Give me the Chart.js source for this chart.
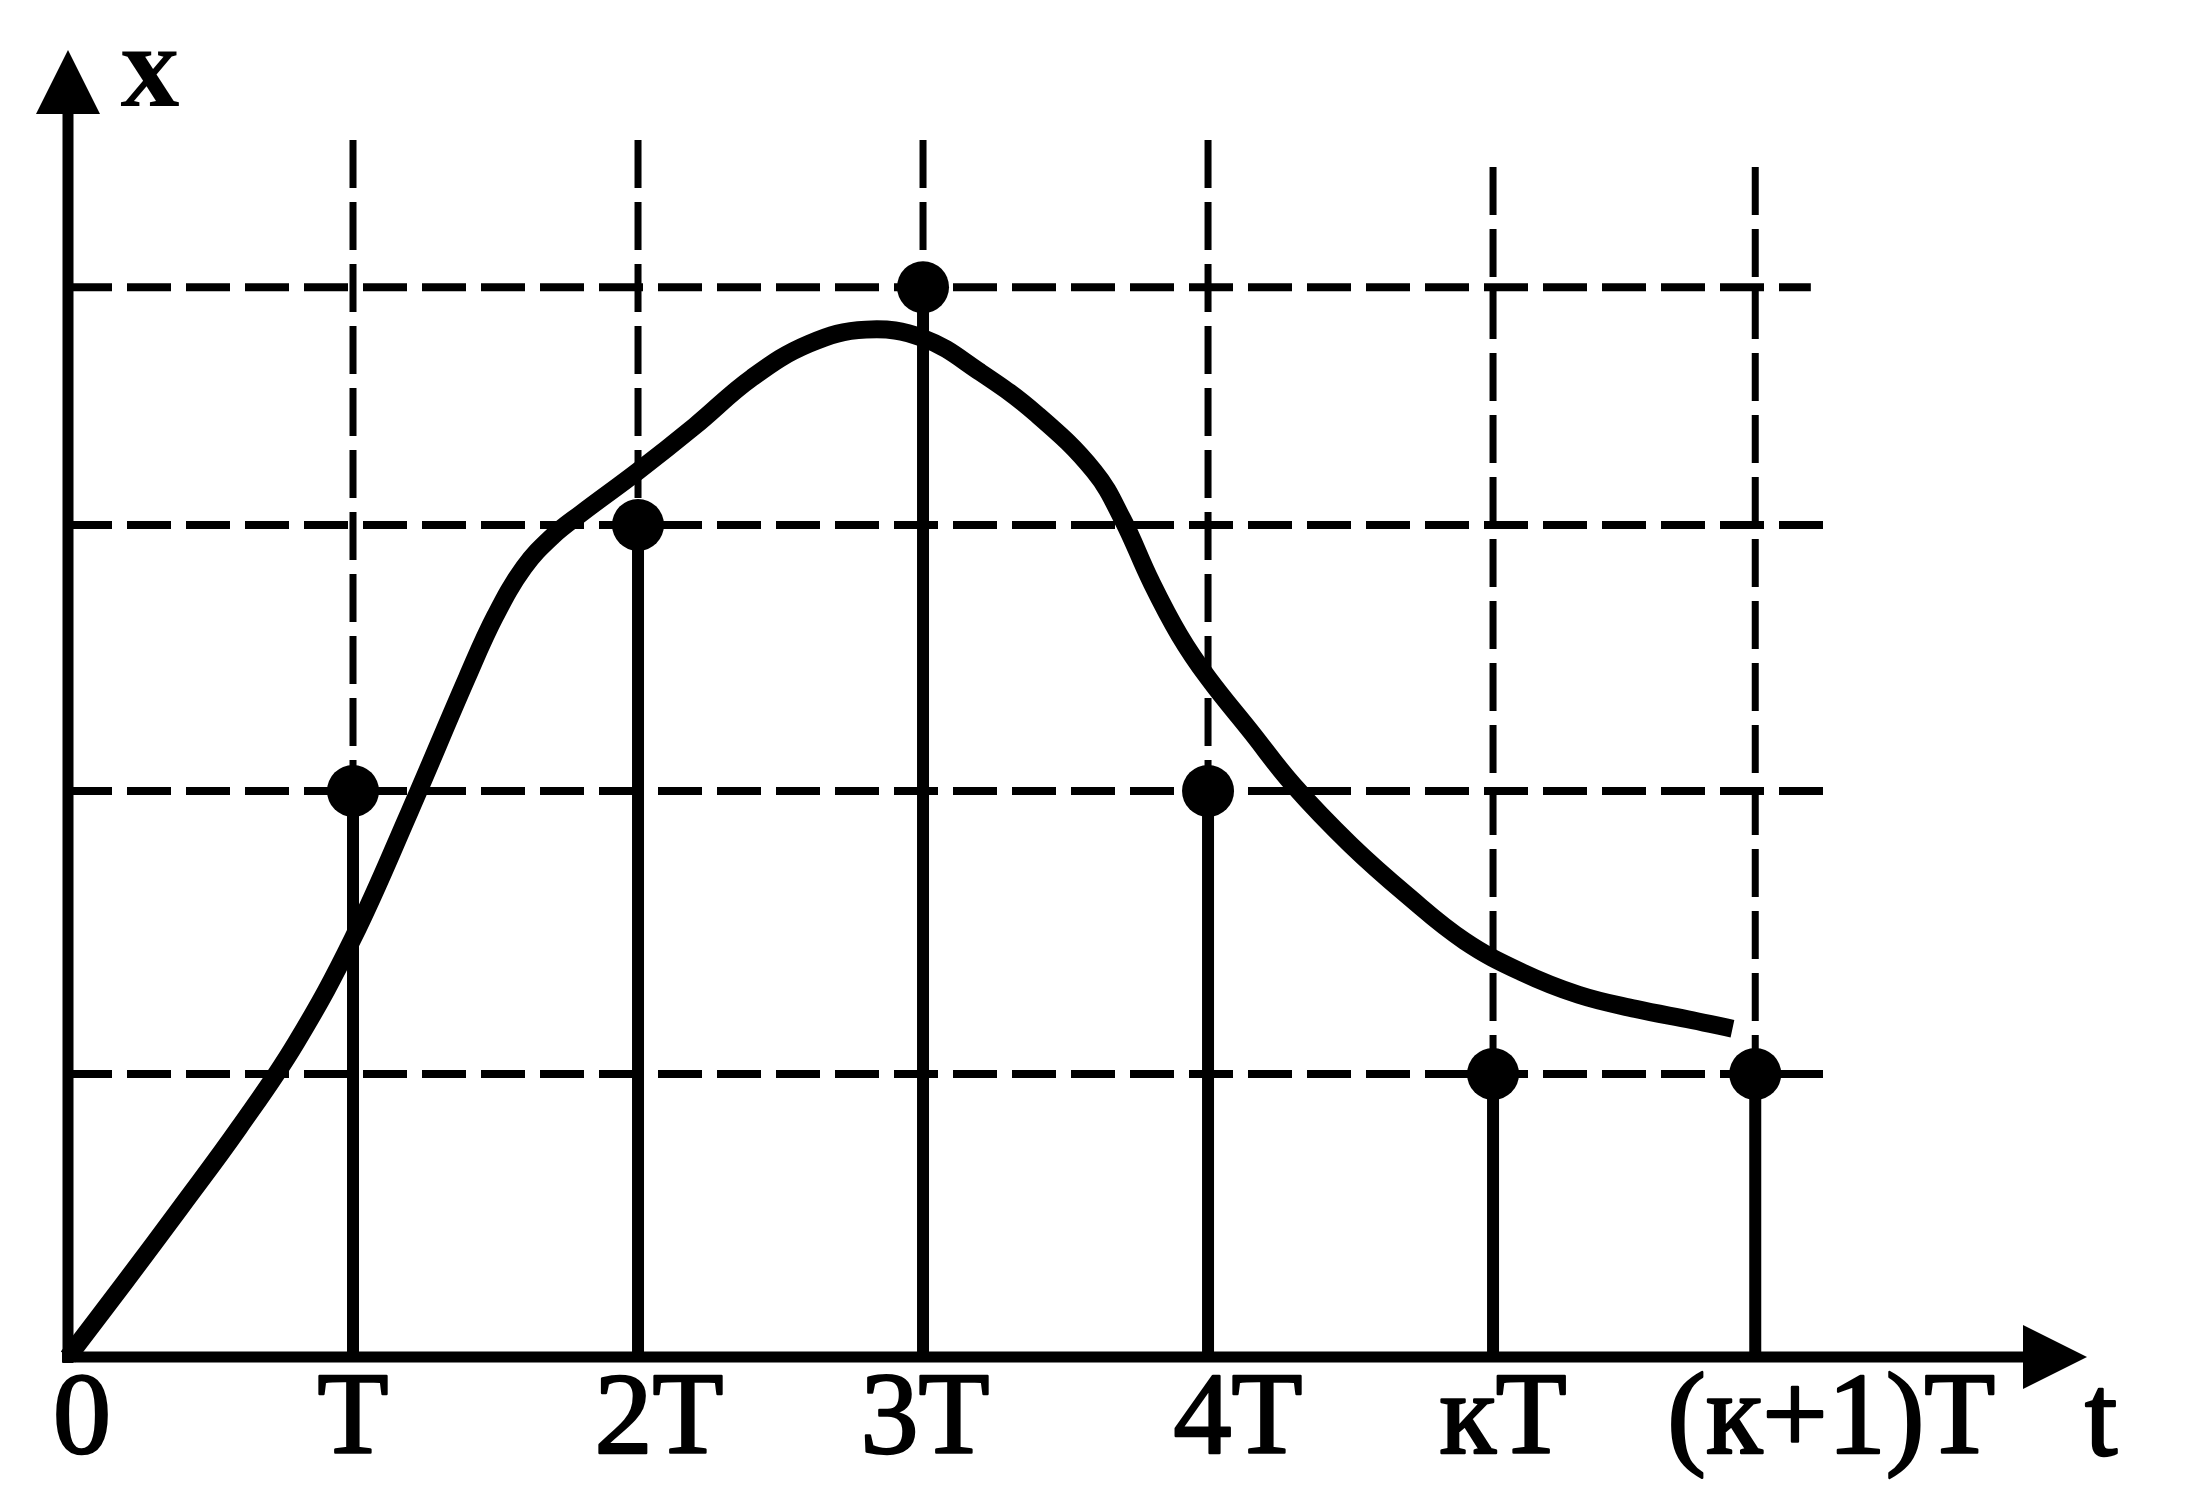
<!DOCTYPE html>
<html>
<head>
<meta charset="utf-8">
<script src="https://cdn.jsdelivr.net/npm/chart.js@4.4.1/dist/chart.umd.min.js"></script>
<style>
  html, body { margin: 0; padding: 0; background: #fff; }
  canvas { display: block; }
</style>
</head>
<body>
<canvas id="signalChart" width="2201" height="1496"></canvas>
<script>
// --- data (x in units of T, y in grid steps) ---
const tickValues = [0, 1, 2, 3, 4, 5, 5.92];
const tickLabels = ['0', 'T', '2T', '3T', '4T', 'кT', '(к+1)T'];

const sampleTimes = [1, 2, 3, 4, 5, 5.92];
const sampleValues = [2, 2.94, 3.78, 2, 1, 1];

const levelValues = [1, 2, 2.94, 3.78];

const curveX = [0, 0.2, 0.4, 0.6, 0.8, 1.0, 1.2, 1.4, 1.5, 1.6, 1.7, 1.8, 2.0, 2.2, 2.4, 2.6, 2.8, 3.0, 3.2, 3.4, 3.6, 3.7, 3.8, 3.9, 4.0, 4.15, 4.3, 4.5, 4.7, 4.9, 5.1, 5.3, 5.5, 5.7, 5.84];
const curveY = [0, 0.265, 0.535, 0.81, 1.11, 1.48, 1.93, 2.40, 2.62, 2.79, 2.90, 2.98, 3.13, 3.29, 3.46, 3.58, 3.63, 3.60, 3.48, 3.33, 3.13, 2.96, 2.74, 2.55, 2.40, 2.21, 2.02, 1.81, 1.63, 1.47, 1.36, 1.28, 1.23, 1.19, 1.16];

// --- how far the dashed guides reach, and small label nudges ---
const vGuideEnd = [4.30, 4.30, 4.30, 4.30, 4.205, 4.205];
const hGuideEnd = [6.19, 6.19, 6.19, 6.115];
const labelNudge = [14, 0, 21, 2, 30, 10, 76];

const FONT = '"Liberation Serif", "Times New Roman", serif';

const datasets = [];

// dashed horizontal guides
levelValues.forEach((lv, i) => {
    datasets.push({
        data: [{ x: 0, y: lv }, { x: hGuideEnd[i], y: lv }],
        borderColor: '#000', borderWidth: 8, borderDash: [44, 15],
        pointRadius: 0, showLine: true, order: 6, clip: false
    });
});

// dashed vertical guides (from the top down)
sampleTimes.forEach((t, i) => {
    datasets.push({
        data: [{ x: t, y: vGuideEnd[i] }, { x: t, y: 0 }],
        borderColor: '#000', borderWidth: 7, borderDash: [48, 14],
        pointRadius: 0, showLine: true, order: 5, clip: false
    });
});

// solid stems
sampleTimes.forEach((t, i) => {
    datasets.push({
        data: [{ x: t, y: 0 }, { x: t, y: sampleValues[i] }],
        borderColor: '#000', borderWidth: 12,
        pointRadius: 0, showLine: true, order: 4, clip: false
    });
});

// continuous signal
datasets.push({
    data: curveX.map((x, i) => ({ x: x, y: curveY[i] })),
    borderColor: '#000', borderWidth: 18, borderCapStyle: 'butt', borderJoinStyle: 'round',
    tension: 0.4,
    pointRadius: 0, showLine: true, order: 3, clip: false
});

// sample dots
datasets.push({
    data: sampleTimes.map((t, i) => ({ x: t, y: sampleValues[i] })),
    backgroundColor: '#000', borderColor: '#000', borderWidth: 0,
    pointRadius: 26, showLine: false, order: 1, clip: false
});

// axes with arrow heads, tick labels, axis names
const axesPlugin = {
    id: 'axesPlugin',
    afterDatasetsDraw(chart) {
        const ctx = chart.ctx;
        const xs = chart.scales.x, ys = chart.scales.y;
        const x0 = xs.getPixelForValue(0), y0 = ys.getPixelForValue(0);
        const xTip = xs.right, yTip = ys.top;
        const head = 64, half = 32;

        ctx.save();
        ctx.strokeStyle = '#000';
        ctx.fillStyle = '#000';
        ctx.lineWidth = 11;
        ctx.lineCap = 'butt';

        ctx.beginPath();
        ctx.moveTo(x0 - 6, y0);
        ctx.lineTo(xTip - head + 4, y0);
        ctx.moveTo(x0, y0 + 6);
        ctx.lineTo(x0, yTip + head - 4);
        ctx.stroke();

        ctx.beginPath();
        ctx.moveTo(xTip, y0);
        ctx.lineTo(xTip - head, y0 - half);
        ctx.lineTo(xTip - head, y0 + half);
        ctx.closePath();
        ctx.fill();

        ctx.beginPath();
        ctx.moveTo(x0, yTip);
        ctx.lineTo(x0 - half, yTip + head);
        ctx.lineTo(x0 + half, yTip + head);
        ctx.closePath();
        ctx.fill();

        // labels, with a thin stroke to match the heavy print
        ctx.lineWidth = 2.5;
        ctx.lineJoin = 'round';
        ctx.font = '116px ' + FONT;
        ctx.textAlign = 'center';
        ctx.textBaseline = 'alphabetic';
        tickValues.forEach((v, i) => {
            const px = xs.getPixelForValue(v) + labelNudge[i];
            ctx.fillText(tickLabels[i], px, y0 + 96);
            ctx.strokeText(tickLabels[i], px, y0 + 96);
        });
        ctx.fillText('t', xTip + 14, y0 + 98);
        ctx.strokeText('t', xTip + 14, y0 + 98);

        ctx.font = 'bold 118px ' + FONT;
        ctx.fillText('x', x0 + 82, yTip + 56);
        ctx.restore();
    }
};

const chart = new Chart(document.getElementById('signalChart'), {
    type: 'scatter',
    data: { datasets: datasets },
    options: {
        responsive: false,
        animation: false,
        layout: { padding: { left: 68, right: 114, top: 50, bottom: 139 } },
        scales: {
            x: { type: 'linear', min: 0, max: 7.084, display: false },
            y: { type: 'linear', min: 0, max: 4.618, display: false }
        },
        plugins: {
            legend: { display: false },
            tooltip: { enabled: false }
        }
    },
    plugins: [axesPlugin]
});
</script>
</body>
</html>
